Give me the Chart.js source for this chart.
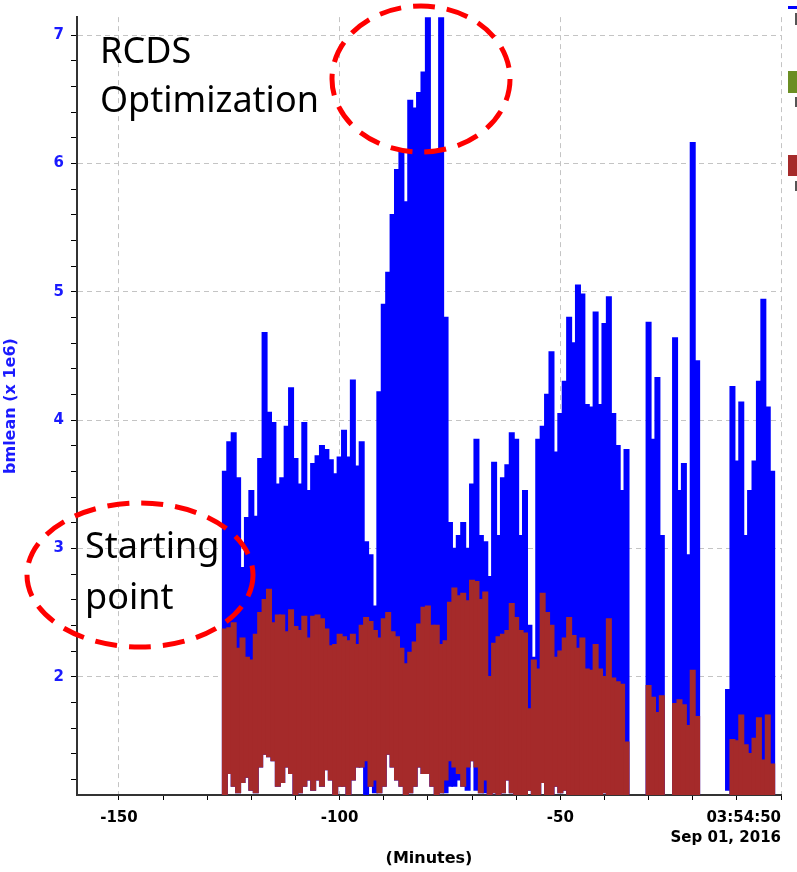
<!DOCTYPE html>
<html>
<head>
<meta charset="utf-8">
<script src="https://cdn.jsdelivr.net/npm/chart.js@4"></script>
<style>
  html, body { margin: 0; padding: 0; background: #fff; }
  #wrap { width: 797px; height: 872px; }
</style>
</head>
<body>
<div id="wrap"><canvas id="chart" width="797" height="872"></canvas></div>
<script>
// ============================================================
// bmlean trend — last ~2.5 h, min/max envelope per 1-minute bin
// blue = bmlean, brown = second trace (both x 1e6)
// ============================================================

// bin centres, minutes before 03:54:50
const minutes = [
  -126, -125, -124, -123, -122, -121, -120, -119, -118, -117,
  -116, -115, -114, -113, -112, -111, -110, -109, -108, -107,
  -106, -105, -104, -103, -102, -101, -100, -99, -98, -97,
  -96, -95, -94, -93, -92, -91, -90, -89, -88, -87,
  -86, -85, -84, -83, -82, -81, -80, -79, -78, -77,
  -76, -75, -74, -73, -72, -71, -70, -69, -68, -67,
  -66, -65, -64, -63, -62, -61, -60, -59, -58, -57,
  -56, -55, -54, -53, -52, -51, -50, -49, -48, -47,
  -46, -45, -44, -43, -42, -41, -40, -39, -38, -37,
  -36, -35, -34, -33, -32, -31, -30, -29, -28, -27,
  -26, -25, -24, -23, -22, -21, -20, -19, -18, -17,
  -16, -15, -14, -13, -12, -11, -10, -9, -8, -7,
  -6, -5, -4, -3, -2
];

const blueHigh = [
  3.60, 3.83, 3.90, 3.55, 2.85, 3.24, 3.45, 3.25, 3.70, 4.68,
  4.06, 3.98, 3.50, 3.55, 3.95, 4.25, 3.70, 3.50, 3.98, 3.45,
  3.66, 3.72, 3.80, 3.77, 3.69, 3.58, 3.71, 3.92, 3.71, 4.31,
  3.64, 3.83, 3.05, 2.95, 2.55, 4.22, 4.90, 5.15, 5.60, 5.95,
  6.10, 5.70, 6.49, 6.43, 6.55, 6.71, 7.14, 6.09, 6.10, 7.14,
  4.80, 3.20, 3.00, 3.10, 3.20, 3.00, 3.50, 3.85, 3.10, 3.05,
  2.78, 3.67, 3.10, 3.55, 3.65, 3.90, 3.85, 3.10, 3.45, 2.40,
  2.15, 3.85, 3.95, 4.20, 4.53, 3.75, 4.05, 4.30, 4.80, 4.60,
  5.05, 4.98, 4.12, 4.10, 4.84, 4.12, 4.75, 4.96, 4.05, 3.80,
  3.45, 3.77, null, null, null, null, 4.76, 3.85, 4.33, 3.10,
  null, null, 4.64, 3.45, 3.66, 2.95, 6.16, 4.46, null, null,
  null, null, null, null, 1.90, 4.26, 3.68, 4.14, 3.10, 3.45,
  3.68, 4.30, 4.94, 4.10, 3.60
];

const blueLow = [
  1.08, 1.25, 1.15, 1.10, 1.18, 1.22, 1.12, 1.10, 1.30, 1.40,
  1.38, 1.35, 1.15, 1.18, 1.30, 1.25, 1.08, 1.10, 1.15, 1.20,
  1.12, 1.20, 1.15, 1.28, 1.20, 1.08, 1.15, 1.15, 1.08, 1.20,
  1.30, 1.30, 1.08, 1.15, 1.10, 1.10, 1.15, 1.40, 1.30, 1.20,
  1.15, 1.08, 1.10, 1.15, 1.30, 1.25, 1.25, 1.15, 1.08, 1.10,
  1.10, 1.15, 1.15, 1.20, 1.15, 1.12, 1.35, 1.12, 1.10, 1.10,
  1.08, 1.10, 1.08, 1.10, 1.20, 1.10, 1.08, 1.08, 1.08, 1.12,
  1.08, 1.08, 1.18, 1.08, 1.08, 1.15, 1.10, 1.12, 1.08, 1.08,
  1.08, 1.08, 1.08, 1.08, 1.08, 1.08, 1.10, 1.08, 1.08, 1.08,
  1.08, 1.08, null, null, null, null, 1.08, 1.08, 1.08, 1.08,
  null, null, 1.08, 1.08, 1.08, 1.08, 1.08, 1.08, null, null,
  null, null, null, null, 1.12, 1.08, 1.08, 1.08, 1.08, 1.08,
  1.08, 1.08, 1.08, 1.08, 1.08
];

const redHigh = [
  2.37, 2.38, 2.42, 2.22, 2.30, 2.15, 2.13, 2.33, 2.50, 2.60,
  2.68, 2.42, 2.48, 2.48, 2.35, 2.52, 2.39, 2.36, 2.47, 2.30,
  2.47, 2.48, 2.45, 2.37, 2.24, 2.25, 2.33, 2.31, 2.28, 2.33,
  2.25, 2.40, 2.46, 2.43, 2.36, 2.30, 2.45, 2.50, 2.35, 2.31,
  2.22, 2.10, 2.19, 2.27, 2.41, 2.54, 2.55, 2.40, 2.40, 2.25,
  2.28, 2.58, 2.69, 2.63, 2.65, 2.59, 2.75, 2.74, 2.60, 2.66,
  2.00, 2.26, 2.31, 2.33, 2.36, 2.57, 2.46, 2.36, 2.34, 1.75,
  2.13, 2.06, 2.65, 2.50, 2.40, 2.15, 2.20, 2.30, 2.46, 2.32,
  2.22, 2.30, 2.06, 2.05, 2.25, 2.06, 2.00, 2.45, 1.99, 1.96,
  1.94, 1.49, null, null, null, null, 1.93, 1.84, 1.72, 1.85,
  null, null, 1.79, 1.82, 1.78, 1.62, 2.05, 1.69, null, null,
  null, null, null, null, null, 1.51, 1.50, 1.70, 1.47, 1.40,
  1.52, 1.68, 1.35, 1.70, 1.32
];

const redLow = [
  1.08, 1.25, 1.15, 1.10, 1.18, 1.22, 1.12, 1.10, 1.30, 1.40,
  1.38, 1.35, 1.15, 1.18, 1.30, 1.25, 1.08, 1.10, 1.15, 1.20,
  1.12, 1.20, 1.15, 1.28, 1.20, 1.08, 1.15, 1.15, 1.08, 1.20,
  1.30, 1.30, 1.35, 1.15, 1.20, 1.10, 1.15, 1.40, 1.30, 1.20,
  1.15, 1.08, 1.10, 1.15, 1.30, 1.25, 1.25, 1.15, 1.08, 1.10,
  1.20, 1.35, 1.30, 1.25, 1.15, 1.30, 1.35, 1.30, 1.10, 1.20,
  1.08, 1.10, 1.08, 1.10, 1.20, 1.10, 1.08, 1.08, 1.08, 1.12,
  1.08, 1.08, 1.18, 1.08, 1.08, 1.15, 1.10, 1.12, 1.08, 1.08,
  1.08, 1.08, 1.08, 1.08, 1.08, 1.08, 1.10, 1.08, 1.08, 1.08,
  1.08, 1.08, null, null, null, null, 1.08, 1.08, 1.08, 1.08,
  null, null, 1.08, 1.08, 1.08, 1.08, 1.08, 1.08, null, null,
  null, null, null, null, null, 1.08, 1.08, 1.08, 1.08, 1.08,
  1.08, 1.08, 1.08, 1.08, 1.08
];

// x tick marks (first entry is the axis start, unlabelled) and the labelled ones
const xTickMinutes = [-159.5, -150, -140, -130, -120, -110, -100, -90, -80, -70, -60, -50, -40, -30, -20, -10, 0];
const xLabelMinutes = [-150, -100, -50, 0];
const xLabelText = ['-150', '-100', '-50', ['03:54:50', 'Sep 01, 2016']];
const yLabelValues = [2, 3, 4, 5, 6, 7];

const BLUE = '#0000ff', BROWN = '#a52a2a', GRID = '#c4c4c4';
const TICK_FONT = { family: 'DejaVu Sans', size: 15, weight: 'bold', lineHeight: 1.35 };

function rangeBars(lo, hi) {
  const pts = [];
  minutes.forEach((m, i) => {
    if (lo[i] == null || hi[i] == null) return;
    pts.push({ x: m, y: [lo[i], hi[i]] });
  });
  return pts;
}

const barStyle = { grouped: false, barPercentage: 1, categoryPercentage: 1, borderWidth: 0, inflateAmount: 0.8 };

// dashed red ellipses + callout text, and the clipped legend swatches at the right edge
const overlay = {
  id: 'overlay',
  afterDraw(chart) {
    const ctx = chart.ctx;
    ctx.save();
    ctx.strokeStyle = '#ff0000';
    ctx.lineWidth = 5;
    ctx.setLineDash([22, 12]);
    [[421, 79, 89, 73], [140, 575, 113, 72]].forEach(([cx, cy, rx, ry]) => {
      ctx.beginPath();
      ctx.ellipse(cx, cy, rx, ry, 0, 0, Math.PI * 2);
      ctx.stroke();
    });
    ctx.setLineDash([]);

    ctx.fillStyle = '#000';
    ctx.font = '36px "Noto Sans"';
    ctx.textBaseline = 'alphabetic';
    ctx.fillText('RCDS', 100, 63);
    ctx.fillText('Optimization', 100, 112);
    ctx.fillText('Starting', 85, 558);
    ctx.fillText('point', 85, 609);

    // legend swatches, mostly cut off by the right edge
    ctx.fillStyle = BLUE;      ctx.fillRect(788, 6, 9, 3);
    ctx.fillStyle = '#6b8e23'; ctx.fillRect(788, 71, 9, 22);
    ctx.fillStyle = BROWN;     ctx.fillRect(788, 155, 9, 21);
    ctx.fillStyle = '#555';
    ctx.fillRect(795, 13, 2, 12);
    ctx.fillRect(795, 97, 2, 10);
    ctx.fillRect(795, 181, 2, 10);
    ctx.restore();
  }
};

new Chart(document.getElementById('chart'), {
  type: 'bar',
  data: {
    datasets: [
      { label: 'brown', data: rangeBars(redLow, redHigh), backgroundColor: BROWN, order: 0, ...barStyle },
      { label: 'bmlean', data: rangeBars(blueLow, blueHigh), backgroundColor: BLUE, order: 1, ...barStyle }
    ]
  },
  options: {
    responsive: false,
    animation: false,
    devicePixelRatio: 1,
    layout: { padding: { top: 16, right: 16, left: 0, bottom: 0 } },
    plugins: { legend: { display: false }, tooltip: { enabled: false } },
    scales: {
      x: {
        type: 'linear',
        min: -159.5,
        max: 0,
        offset: false,
        afterFit(s) { s.height = 77; },
        afterBuildTicks(s) { s.ticks = xTickMinutes.map(v => ({ value: v })); },
        ticks: {
          autoSkip: false,
          maxRotation: 0,
          align: 'inner',
          padding: 8,
          color: '#000',
          font: TICK_FONT,
          callback(v) {
            const k = xLabelMinutes.indexOf(v);
            return k < 0 ? '' : xLabelText[k];
          }
        },
        grid: {
          offset: false,
          lineWidth: 1,
          color: c => (c.tick && c.tick.value % 50 === 0) ? GRID : 'rgba(0,0,0,0)',
          tickColor: c => (c.tick && c.tick.value % 10 === 0) ? '#000' : 'rgba(0,0,0,0)',
          tickLength: 5,
          tickWidth: 1
        },
        border: { color: '#333', width: 2, dash: [5, 4] },
        title: {
          display: true,
          text: '(Minutes)',
          color: '#000',
          font: { family: 'DejaVu Sans', size: 16, weight: 'bold' },
          padding: { top: 0, bottom: 4 }
        }
      },
      y: {
        min: 1.08,
        max: 7.14,
        afterFit(s) { s.width = 77; },
        ticks: {
          stepSize: 0.2,
          includeBounds: false,
          autoSkip: false,
          padding: 7,
          color: '#1a1aff',
          font: TICK_FONT,
          callback(v) {
            const r = Math.round(v);
            return (Math.abs(v - r) < 1e-6 && yLabelValues.includes(r)) ? String(r) : '';
          }
        },
        grid: {
          lineWidth: 1,
          color: c => (c.tick && Math.abs(c.tick.value - Math.round(c.tick.value)) < 1e-6) ? GRID : 'rgba(0,0,0,0)',
          tickColor: '#000',
          tickLength: 6,
          tickWidth: 1
        },
        border: { color: '#333', width: 2, dash: [5, 4] },
        title: {
          display: true,
          text: 'bmlean (x 1e6)',
          color: '#1a1aff',
          font: { family: 'DejaVu Sans', size: 16, weight: 'bold' },
          padding: { top: 1, bottom: 0 }
        }
      }
    }
  },
  plugins: [overlay]
});
</script>
</body>
</html>
